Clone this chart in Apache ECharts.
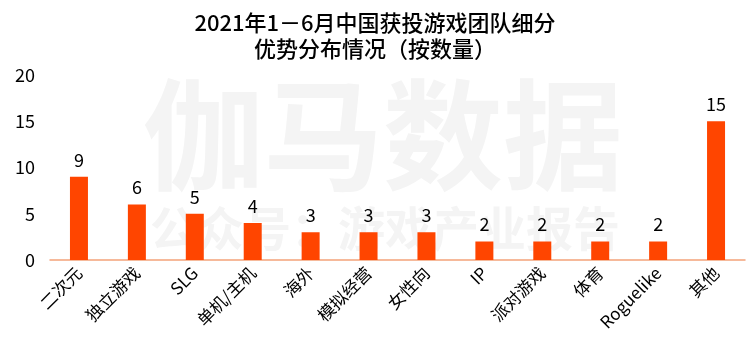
<!DOCTYPE html>
<html><head><meta charset="utf-8">
<script src="https://cdn.jsdelivr.net/npm/echarts@6/dist/echarts.min.js"></script>
<style>html,body{margin:0;padding:0;background:#fff}#c{width:750px;height:363px}</style>
</head><body><div id="c"></div>
<script>
const categories = ['二次元','独立游戏','SLG','单机/主机','海外','模拟经营','女性向','IP','派对游戏','体育','Roguelike','其他'];
const values = [9,6,5,4,3,3,3,2,2,2,2,15];
const titleText = '2021年1－6月中国获投游戏团队细分\n优势分布情况（按数量）';
const FONT = '"Noto Sans CJK SC", "Noto Sans", sans-serif';
const chart = echarts.init(document.getElementById('c'));
chart.setOption({
  backgroundColor: '#fff',
  animation: false,
  title: {
    text: titleText, left: 'center', top: 5,
    textStyle: { fontFamily: FONT, fontSize: 22, fontWeight: 500, color: '#000', lineHeight: 26 }
  },
  graphic: [
    { type: 'text', left: 143, top: 75, z: 0,
      style: { text: '伽马数据', font: 'bold 120px ' + FONT, fill: '#f4f4f4' } },
    { type: 'text', left: 150, top: 205, z: 0,
      style: { text: '公众号：游戏产业报告', font: 'bold 47px ' + FONT, fill: '#f4f4f4' } }
  ],
  grid: { left: 50, right: 5, top: 75, bottom: 103 },
  xAxis: {
    type: 'category', data: categories,
    axisLine: { lineStyle: { color: '#f4a27a', width: 1.5 } },
    axisTick: { show: false },
    axisLabel: { rotate: 45, interval: 0, color: '#000', fontSize: 17, fontFamily: FONT, margin: 10 }
  },
  yAxis: {
    type: 'value', min: 0, max: 20, interval: 5,
    axisLine: { show: false }, axisTick: { show: false }, splitLine: { show: false },
    axisLabel: { color: '#000', fontSize: 18, fontFamily: FONT, margin: 15 }
  },
  series: [{
    type: 'bar', data: values, barWidth: 18, z: 5,
    itemStyle: { color: '#ff4500' },
    label: { show: true, position: 'top', distance: 8, color: '#000', fontSize: 18, fontFamily: FONT }
  }]
});
</script></body></html>
